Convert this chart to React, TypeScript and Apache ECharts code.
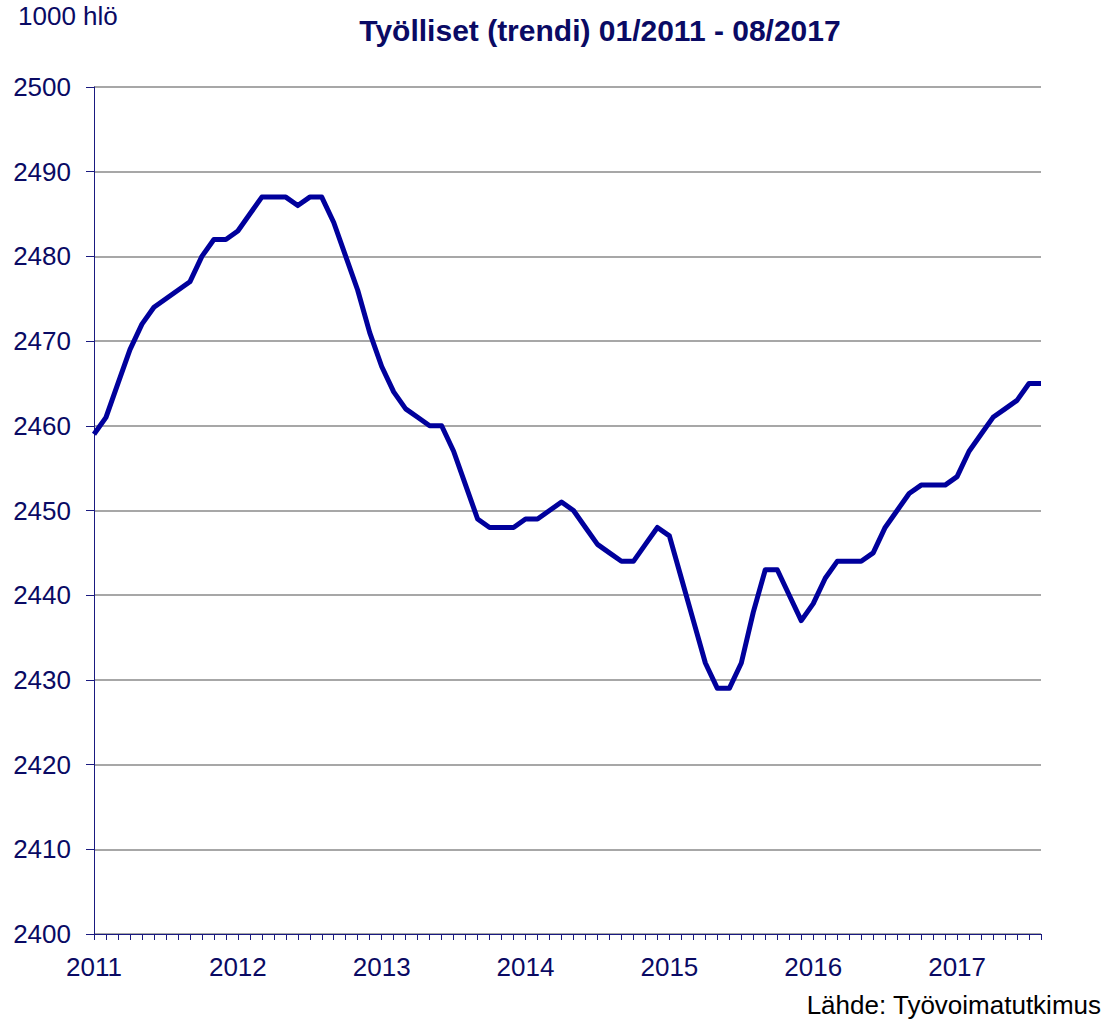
import React, { useEffect, useRef } from "react";
import * as echarts from "echarts";

const startYear = 2011;
const monthCount = 80;
const employed = [
  2459, 2461, 2465, 2469, 2472, 2474, 2475, 2476, 2477, 2480, 2482, 2482,
  2483, 2485, 2487, 2487, 2487, 2486, 2487, 2487, 2484, 2480, 2476, 2471,
  2467, 2464, 2462, 2461, 2460, 2460, 2457, 2453, 2449, 2448, 2448, 2448,
  2449, 2449, 2450, 2451, 2450, 2448, 2446, 2445, 2444, 2444, 2446, 2448,
  2447, 2442, 2437, 2432, 2429, 2429, 2432, 2438, 2443, 2443, 2440, 2437,
  2439, 2442, 2444, 2444, 2444, 2445, 2448, 2450, 2452, 2453, 2453, 2453,
  2454, 2457, 2459, 2461, 2462, 2463, 2465, 2465,
];
const yMin = 2400;
const yMax = 2500;
const yStep = 10;
const titleText = "Työlliset (trendi) 01/2011 - 08/2017";
const unitText = "1000 hlö";
const sourceText = "Lähde: Työvoimatutkimus";

const categories: string[] = [];
for (let i = 0; i < monthCount; i++) {
  const y = startYear + Math.floor(i / 12);
  const m = (i % 12) + 1;
  categories.push(`${m < 10 ? "0" + m : m}/${y}`);
}

const FONT = "'Liberation Sans', Arial, Helvetica, sans-serif";
const NAVY_TEXT = "#0a0a64";
const AXIS = "#1a1a80";

export default function App() {
  const ref = useRef<HTMLDivElement>(null);
  useEffect(() => {
    document.body.style.margin = "0";
    if (!ref.current) return;
    const chart = echarts.init(ref.current, undefined, { renderer: "svg" });
    chart.setOption({
      animation: false,
      backgroundColor: "#ffffff",
      grid: { left: 94, right: 67, top: 87, bottom: 97, containLabel: false },
      xAxis: {
        type: "category",
        data: categories,
        boundaryGap: false,
        axisLine: { show: true, lineStyle: { color: AXIS, width: 1 } },
        axisTick: {
          show: true,
          interval: 0,
          length: 6,
          inside: false,
          lineStyle: { color: AXIS, width: 1 },
        },
        axisLabel: {
          interval: (idx: number) => idx % 12 === 0,
          formatter: (v: string) => v.split("/")[1],
          color: NAVY_TEXT,
          fontSize: 26,
          fontFamily: FONT,
          margin: 20,
        },
        splitLine: { show: false },
      },
      yAxis: {
        type: "value",
        min: yMin,
        max: yMax,
        interval: yStep,
        axisLine: { show: true, lineStyle: { color: AXIS, width: 1 } },
        axisTick: { show: true, length: 8, lineStyle: { color: AXIS, width: 1 } },
        axisLabel: {
          color: NAVY_TEXT,
          fontSize: 26,
          fontFamily: FONT,
          margin: 23,
          formatter: (v: number) => String(v),
        },
        splitLine: { show: true, lineStyle: { color: "#8a8a8a", width: 1.5 } },
      },
      series: [
        {
          type: "line",
          data: employed,
          symbol: "none",
          lineStyle: { color: "#00009c", width: 5, join: "round" },
        },
      ],
      graphic: [
        {
          type: "text",
          left: 18,
          top: 3,
          style: {
            text: unitText,
            fill: NAVY_TEXT,
            font: `26px ${FONT}`,
          },
        },
        {
          type: "text",
          x: 600,
          y: 30,
          style: {
            text: titleText,
            fill: NAVY_TEXT,
            font: `bold 30px ${FONT}`,
            textAlign: "center",
            textVerticalAlign: "middle",
          },
        },
        {
          type: "text",
          x: 1101,
          y: 1005,
          style: {
            text: sourceText,
            fill: "#000000",
            font: `26px ${FONT}`,
            textAlign: "right",
            textVerticalAlign: "middle",
          },
        },
      ],
    });
    return () => chart.dispose();
  }, []);
  return <div ref={ref} style={{ width: 1108, height: 1031 }} />;
}
